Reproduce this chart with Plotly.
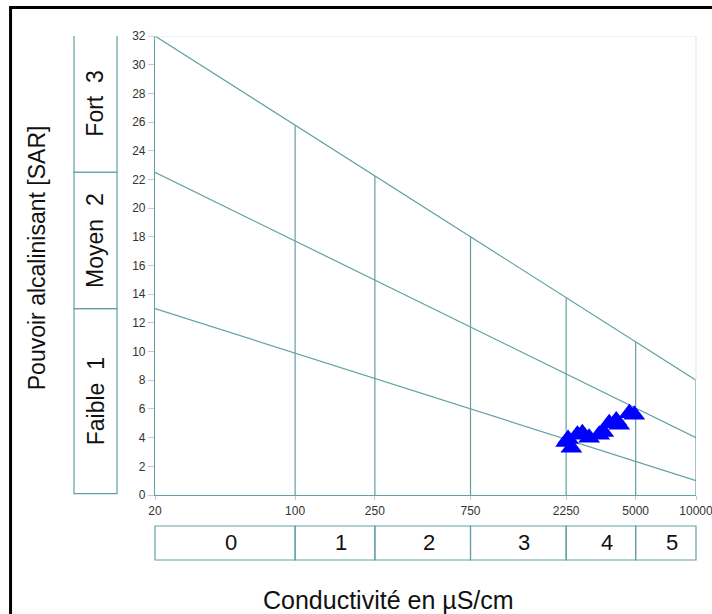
import numpy as np
import plotly.graph_objects as go

# ---- data ----
ec_ticks = [20, 100, 250, 750, 2250, 5000, 10000]
ec_class_labels = ["0", "1", "2", "3", "4", "5"]
sar_ticks = list(range(0, 33, 2))
sar_class_labels = ["Faible  1", "Moyen  2", "Fort  3"]
sar_class_bounds = [0, 13, 22.5, 32]
line_start_sar = [13, 22.5, 32]     # at EC = 20
line_end_sar = [1, 4, 8]            # at EC = 10000
pt_ec = [2250, 2390, 2560, 2710, 2930, 3290, 3690, 4000, 4140, 4650, 4920, 2300, 3450]
pt_sar = [3.7, 3.3, 4.2, 4.3, 4.0, 4.2, 5.0, 5.2, 4.9, 5.7, 5.6, 3.9, 4.4]

TEAL = "#62a0a2"
FONT = "Arial, Liberation Sans, sans-serif"

fig = go.Figure()

ec_min, ec_max = ec_ticks[0], ec_ticks[-1]
lmin, lmax = np.log10(ec_min), np.log10(ec_max)


def xpaper(v):
    return (np.log10(v) - lmin) / (lmax - lmin)


# diagonal class lines
for s0, s1 in zip(line_start_sar, line_end_sar):
    fig.add_trace(go.Scatter(x=[ec_min, ec_max], y=[s0, s1], mode="lines",
                             line=dict(color=TEAL, width=1.2), hoverinfo="skip",
                             showlegend=False))

# vertical class lines up to top diagonal
top_s0, top_s1 = line_start_sar[-1], line_end_sar[-1]
for v in ec_ticks[1:]:
    top = np.interp(np.log10(v), [lmin, lmax], [top_s0, top_s1])
    fig.add_trace(go.Scatter(x=[v, v], y=[0, top], mode="lines",
                             line=dict(color=TEAL, width=1.2), hoverinfo="skip",
                             showlegend=False))

# points
fig.add_trace(go.Scatter(x=pt_ec, y=pt_sar, mode="markers",
                         marker=dict(symbol="triangle-up", size=19, color="#0000ff",
                                     line=dict(width=0)),
                         showlegend=False))

shapes = []
# light frame top/right
shapes.append(dict(type="line", xref="paper", yref="y", x0=-0.012, x1=1, y0=32, y1=32,
                   line=dict(color="#e6e6e6", width=1.2)))
shapes.append(dict(type="line", xref="paper", yref="y", x0=1, x1=1, y0=top_s1, y1=32,
                   line=dict(color="#e6e6e6", width=1.2)))

# left SAR class boxes
bx0, bx1 = -0.1497, -0.0702
annotations = []
for i, lab in enumerate(sar_class_labels):
    lo, hi = sar_class_bounds[i], sar_class_bounds[i + 1]
    shapes.append(dict(type="rect", xref="paper", yref="y", x0=bx0, x1=bx1,
                       y0=lo + (0.1 if i == 0 else 0), y1=hi + (0.2 if i == 2 else 0),
                       line=dict(color=TEAL, width=1.2)))
    annotations.append(dict(xref="paper", yref="y", x=(bx0 + bx1) / 2, y=(lo + hi) / 2,
                            xanchor="center", yanchor="middle",
                            text=lab, textangle=-90, showarrow=False,
                            font=dict(family=FONT, size=23, color="#111")))

# bottom EC class boxes
by0, by1 = -0.1416, -0.0675
for i, lab in enumerate(ec_class_labels):
    a, b = xpaper(ec_ticks[i]), xpaper(ec_ticks[i + 1])
    shapes.append(dict(type="rect", xref="paper", yref="paper", x0=a, x1=b, y0=by0, y1=by1,
                       line=dict(color=TEAL, width=1.2)))
    annotations.append(dict(xref="paper", yref="paper", x=(a + b) / 2, y=(by0 + by1) / 2,
                            xanchor="center", yanchor="middle",
                            text=lab, showarrow=False, xshift=6,
                            font=dict(family=FONT, size=22, color="#111")))

# outer black border
shapes.append(dict(type="rect", xref="paper", yref="paper", x0=-0.267, x1=1.3,
                   y0=-0.6, y1=1.062, line=dict(color="black", width=3)))

annotations.append(dict(xref="paper", yref="paper", x=-0.218, y=0.516,
                        xanchor="center", yanchor="middle",
                        text="Pouvoir alcalinisant [SAR]", textangle=-90, showarrow=False,
                        font=dict(family=FONT, size=23, color="#111")))
annotations.append(dict(xref="paper", yref="paper", x=0.431, y=-0.228,
                        xanchor="center", yanchor="middle",
                        text="Conductivité en µS/cm", showarrow=False,
                        font=dict(family=FONT, size=25, color="#111")))

fig.update_layout(
    width=712, height=614,
    margin=dict(l=155, r=16, t=36, b=119, autoexpand=False),
    paper_bgcolor="white", plot_bgcolor="white",
    shapes=shapes, annotations=annotations,
    xaxis=dict(type="log", range=[lmin, lmax], tickvals=ec_ticks,
               ticktext=[str(t) for t in ec_ticks], showgrid=False, zeroline=False,
               showline=True, linecolor=TEAL, linewidth=1.2, automargin=False,
               ticks="outside", ticklen=4, tickcolor="#c8c8c8",
               ticklabeloverflow="allow",
               tickfont=dict(family=FONT, size=12, color="#333")),
    yaxis=dict(range=[0, 32], tickvals=sar_ticks, showgrid=False, zeroline=False,
               showline=True, linecolor=TEAL, linewidth=1.2, automargin=False,
               ticks="outside", ticklen=6, tickcolor="#c8c8c8",
               tickfont=dict(family=FONT, size=12, color="#333")),
)

fig.write_html("out.html")
